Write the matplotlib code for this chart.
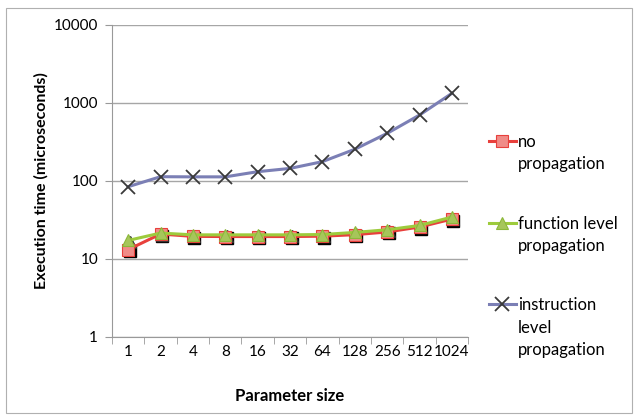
import matplotlib
matplotlib.use("Agg")
import matplotlib.pyplot as plt
import matplotlib.transforms as mtransforms
from matplotlib.patches import Rectangle
import numpy as np

plt.rcParams['font.family'] = ['Lato', 'DejaVu Sans']

param_sizes = ["1", "2", "4", "8", "16", "32", "64", "128", "256", "512", "1024"]
no_prop = [13.2, 20.9, 19.5, 19.4, 19.4, 19.4, 19.6, 20.5, 22.2, 25.7, 32.5]
func_prop = [17.3, 21.5, 20.4, 20.4, 20.4, 20.4, 20.6, 21.9, 23.7, 26.9, 34.5]
instr_prop = [84.5, 113.5, 113, 113, 131.6, 145, 177, 255, 408, 701, 1330]
labels = ["no\npropagation", "function level\npropagation", "instruction\nlevel\npropagation"]

fig = plt.figure(figsize=(6.37, 4.18), dpi=100)
ax = fig.add_axes([0.1758, 0.1938, 0.559, 0.7464])

# outer chart border
fig.patches.append(Rectangle((0.009, 0.012), 0.983, 0.97, transform=fig.transFigure,
                             fill=False, edgecolor="#b0b0b0", lw=0.8))

x = np.arange(len(param_sizes))
shadow = mtransforms.offset_copy(ax.transData, fig=fig, x=1.5, y=-1.5, units="dots")

# marker shadows
ax.plot(x, no_prop, ls="none", marker="s", ms=8, color="black", transform=shadow, zorder=3)
ax.plot(x, func_prop, ls="none", marker="^", ms=8, color="#333333", transform=shadow, zorder=3)

l1, = ax.plot(x, no_prop, color="#e8403c", lw=2.2, marker="s", ms=8,
              mfc="#f08c88", mec="#e8403c", mew=0.8, zorder=4)
l2, = ax.plot(x, func_prop, color="#9dcb3c", lw=2.2, marker="^", ms=8,
              mfc="#a6c65a", mec="#8cb83a", mew=0.8, zorder=5)
l3, = ax.plot(x, instr_prop, color="#7b7fb5", lw=2.2, marker="x", ms=10,
              mec="#3a3a3a", mew=1.3, zorder=4)

ax.set_yscale("log")
ax.set_ylim(1, 10000)
ax.set_yticks([1, 10, 100, 1000, 10000])
ax.set_yticklabels(["1", "10", "100", "1000", "10000"])
ax.minorticks_off()
ax.set_xlim(-0.5, len(param_sizes) - 0.5)
ax.set_xticks(x)
ax.set_xticklabels(param_sizes)
ax.set_xticks(np.arange(-0.5, len(param_sizes)), minor=True)
ax.tick_params(axis="x", which="major", length=0, pad=6, labelsize=11)
ax.tick_params(axis="x", which="minor", length=5, color="#999999")
ax.tick_params(axis="y", which="major", length=5, color="#999999", labelsize=11, pad=5)

ax.grid(axis="y", color="#a6a6a6", lw=1)
ax.set_axisbelow(True)
for s in ["top", "right"]:
    ax.spines[s].set_visible(False)
for s in ["left", "bottom"]:
    ax.spines[s].set_color("#999999")

ax.set_xlabel("Parameter size", fontsize=12, fontweight="bold", labelpad=21)
ax.set_ylabel("Execution time (microseconds)", fontsize=11.5, fontweight="bold", labelpad=4)

fs = 12
ls = 1.5
leg = ax.legend([l1, l2, l3], labels, loc="upper left", bbox_to_anchor=(1.04, 0.673),
                frameon=False, fontsize=fs, labelspacing=2.6, handlelength=1.6,
                handletextpad=0.15, borderaxespad=0)
for t in leg.get_texts():
    t.set_linespacing(ls)
# put each legend symbol beside the first line of its label
for h, lab in zip(leg.legend_handles, labels):
    n = lab.count("\n")
    h.set_ydata(np.asarray(h.get_ydata()) + n * 0.5 * ls * fs)

fig.savefig("out.png", dpi=100)
